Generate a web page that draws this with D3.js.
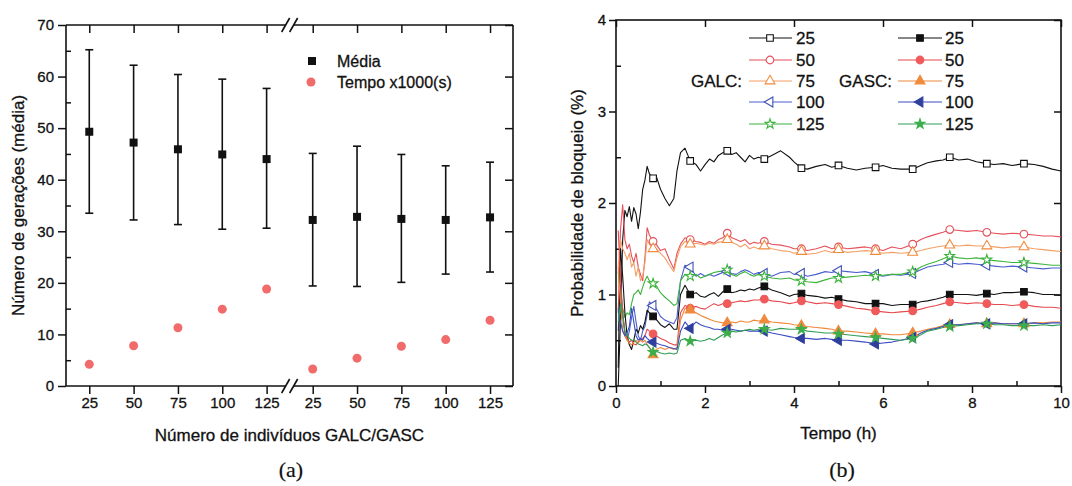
<!DOCTYPE html>
<html><head><meta charset="utf-8">
<script src="https://cdn.jsdelivr.net/npm/d3@7"></script>
<style>
body{margin:0;background:#fff}
svg{display:block}
text{font-family:"Liberation Sans",Arial,sans-serif;fill:#111;stroke:#111;stroke-width:0.3px}
</style>
</head><body>
<svg id="c" width="1072" height="486"></svg>
<script>
// ---------------- DATA: chart (a) ----------------
const sizes = ["25", "50", "75", "100", "125"];
const groups = ["GALC", "GASC"];
const mediaGALC = [49.3, 47.2, 45.9, 44.9, 44.0];
const mediaGASC = [32.2, 32.8, 32.4, 32.2, 32.7];
const errHiGALC = [65.2, 62.2, 60.4, 59.5, 57.7];
const errHiGASC = [45.1, 46.5, 44.9, 42.7, 43.4];
const errLoGALC = [33.5, 32.2, 31.3, 30.4, 30.6];
const errLoGASC = [19.4, 19.3, 20.1, 21.7, 22.1];
const tempoGALC = [4.2, 7.8, 11.3, 14.9, 18.8];
const tempoGASC = [3.3, 5.4, 7.7, 9.0, 12.75];
const yTicksA = [0, 10, 20, 30, 40, 50, 60, 70];

// ---------------- DATA: chart (b) ----------------
const tempoH = [0.05,0.1,0.15,0.2,0.25,0.3,0.35,0.4,0.45,0.5,
  0.55,0.6,0.65,0.7,0.75,0.833,0.9,1.0,1.1,1.2,
  1.3,1.37,1.45,1.55,1.667,1.8,1.9,2.0,2.1,2.2,
  2.3,2.4,2.5,2.6,2.7,2.8,2.9,3.0,3.1,3.2,
  3.333,3.5,3.7,3.9,4.0,4.167,4.3,4.5,4.7,4.85,
  5.0,5.2,5.4,5.6,5.833,6.0,6.2,6.4,6.667,6.85,
  7.0,7.2,7.35,7.5,7.7,7.9,8.1,8.333,8.5,8.7,
  8.9,9.167,9.4,9.6,9.8,10.0];
const markerTimes = [0.833,1.667,2.5,3.333,4.167,5.0,5.833,6.667,7.5,8.333,9.167];

const galc25 = [0,0.7,1.6,1.92,1.85,1.96,1.8,1.95,1.88,1.72,
  1.9,2.15,2.25,2.4,2.32,2.27,2.3,2.15,2.05,1.97,
  2.05,2.35,2.55,2.6,2.46,2.42,2.35,2.42,2.48,2.45,
  2.52,2.55,2.57,2.53,2.55,2.5,2.45,2.52,2.48,2.5,
  2.48,2.52,2.57,2.5,2.45,2.38,2.37,2.4,2.42,2.39,
  2.41,2.38,2.36,2.38,2.39,2.41,2.38,2.37,2.37,2.41,
  2.44,2.46,2.47,2.5,2.47,2.48,2.45,2.43,2.42,2.43,
  2.41,2.43,2.42,2.4,2.37,2.35];
const galc50 = [0.8,1.7,1.98,1.6,1.5,1.55,1.42,1.35,1.45,1.3,
  1.22,1.15,1.4,1.73,1.65,1.58,1.55,1.48,1.5,1.38,
  1.28,1.45,1.55,1.62,1.6,1.58,1.57,1.55,1.58,1.56,
  1.6,1.62,1.67,1.62,1.6,1.58,1.6,1.55,1.57,1.56,
  1.58,1.55,1.54,1.52,1.5,1.5,1.48,1.5,1.53,1.5,
  1.52,1.5,1.51,1.52,1.5,1.48,1.52,1.5,1.55,1.6,
  1.63,1.66,1.68,1.71,1.7,1.69,1.7,1.68,1.67,1.66,
  1.67,1.66,1.65,1.64,1.64,1.63];
const galc75 = [1.3,1.6,1.5,1.45,1.38,1.45,1.3,1.35,1.2,1.3,
  1.15,1.2,1.35,1.6,1.55,1.5,1.5,1.45,1.4,1.32,
  1.25,1.4,1.52,1.58,1.55,1.56,1.55,1.54,1.56,1.55,
  1.57,1.58,1.6,1.57,1.55,1.52,1.55,1.5,1.52,1.5,
  1.53,1.5,1.48,1.47,1.45,1.47,1.44,1.45,1.48,1.46,
  1.49,1.46,1.47,1.48,1.47,1.45,1.46,1.45,1.46,1.48,
  1.5,1.52,1.53,1.54,1.53,1.54,1.53,1.53,1.52,1.51,
  1.52,1.52,1.5,1.49,1.48,1.47];
const galc100 = [0.6,1.1,0.8,0.55,0.5,0.6,0.75,0.87,0.7,0.55,
  0.5,0.6,0.65,0.78,0.92,0.88,0.85,0.76,0.72,0.7,
  0.68,0.75,1.15,1.32,1.3,1.2,1.23,1.2,1.22,1.2,
  1.22,1.24,1.25,1.23,1.22,1.25,1.27,1.25,1.22,1.24,
  1.23,1.2,1.24,1.25,1.22,1.23,1.2,1.22,1.25,1.24,
  1.26,1.25,1.24,1.25,1.22,1.2,1.22,1.21,1.23,1.27,
  1.3,1.32,1.33,1.35,1.33,1.34,1.33,1.32,1.31,1.3,
  1.31,1.3,1.29,1.28,1.29,1.29];
const galc125 = [1.25,1.0,0.85,0.75,0.8,0.78,0.9,1.0,1.02,1.05,
  1.0,1.08,1.15,1.2,1.15,1.12,1.1,1.02,0.97,0.93,
  0.88,0.9,1.15,1.22,1.2,1.22,1.18,1.2,1.22,1.24,
  1.25,1.26,1.27,1.22,1.2,1.23,1.25,1.22,1.2,1.22,
  1.2,1.18,1.17,1.18,1.16,1.15,1.14,1.13,1.16,1.18,
  1.18,1.19,1.2,1.21,1.2,1.21,1.22,1.22,1.25,1.3,
  1.33,1.36,1.39,1.42,1.4,1.39,1.4,1.38,1.37,1.36,
  1.35,1.35,1.34,1.33,1.32,1.32];
const gasc25 = [0.2,1.5,1.2,0.8,0.55,0.45,0.4,0.5,0.62,0.58,
  0.66,0.62,0.7,0.83,0.8,0.76,0.73,0.67,0.64,0.68,
  0.62,0.62,1.0,1.1,1.0,1.02,0.98,0.97,1.0,1.02,
  0.98,1.03,1.06,1.02,1.03,1.05,1.04,1.06,1.05,1.07,
  1.09,1.05,1.02,0.98,1.0,1.01,0.99,0.98,0.96,0.97,
  0.95,0.93,0.92,0.9,0.9,0.9,0.88,0.89,0.89,0.92,
  0.93,0.95,0.97,1.0,1.0,1.0,0.99,1.01,1.0,1.02,
  1.02,1.03,1.02,1.0,1.0,0.99];
const gasc50 = [1.7,1.2,0.8,0.6,0.52,0.48,0.5,0.46,0.45,0.48,
  0.5,0.52,0.55,0.62,0.6,0.57,0.55,0.52,0.5,0.47,
  0.45,0.45,0.8,0.88,0.85,0.87,0.85,0.84,0.87,0.9,
  0.88,0.9,0.9,0.91,0.92,0.93,0.92,0.93,0.94,0.94,
  0.95,0.93,0.92,0.9,0.91,0.93,0.92,0.9,0.91,0.9,
  0.89,0.87,0.85,0.84,0.82,0.81,0.8,0.81,0.82,0.84,
  0.86,0.88,0.9,0.92,0.91,0.9,0.91,0.9,0.89,0.89,
  0.88,0.89,0.87,0.86,0.86,0.85];
const gasc75 = [1.3,0.9,0.6,0.55,0.5,0.47,0.45,0.48,0.5,0.47,
  0.5,0.48,0.5,0.45,0.42,0.34,0.4,0.42,0.4,0.42,
  0.4,0.42,0.72,0.85,0.83,0.8,0.77,0.75,0.73,0.71,
  0.7,0.69,0.69,0.7,0.69,0.71,0.7,0.7,0.72,0.71,
  0.72,0.7,0.69,0.68,0.67,0.66,0.65,0.64,0.63,0.62,
  0.6,0.6,0.59,0.58,0.57,0.57,0.56,0.56,0.58,0.6,
  0.62,0.64,0.66,0.67,0.67,0.68,0.69,0.68,0.69,0.68,
  0.68,0.68,0.69,0.69,0.7,0.7];
const gasc100 = [0.85,0.7,0.6,0.55,0.58,0.65,0.85,0.7,0.55,0.5,
  0.52,0.5,0.55,0.52,0.5,0.48,0.47,0.45,0.44,0.42,
  0.41,0.4,0.6,0.7,0.63,0.7,0.67,0.65,0.64,0.62,
  0.62,0.61,0.62,0.62,0.61,0.6,0.61,0.6,0.6,0.6,
  0.6,0.58,0.56,0.54,0.53,0.52,0.52,0.51,0.52,0.51,
  0.5,0.5,0.49,0.48,0.46,0.47,0.48,0.5,0.53,0.58,
  0.61,0.63,0.65,0.67,0.67,0.68,0.69,0.68,0.69,0.68,
  0.68,0.68,0.69,0.68,0.69,0.69];
const gasc125 = [0.7,0.9,0.75,0.6,0.55,0.52,0.5,0.5,0.48,0.46,
  0.45,0.44,0.46,0.45,0.42,0.37,0.38,0.36,0.35,0.36,
  0.35,0.36,0.5,0.52,0.49,0.5,0.49,0.5,0.52,0.5,
  0.53,0.56,0.58,0.6,0.59,0.6,0.61,0.62,0.61,0.62,
  0.62,0.61,0.63,0.62,0.62,0.62,0.6,0.59,0.58,0.58,
  0.57,0.56,0.55,0.54,0.53,0.52,0.51,0.5,0.52,0.56,
  0.6,0.62,0.64,0.65,0.66,0.67,0.68,0.68,0.67,0.67,
  0.66,0.66,0.66,0.67,0.66,0.67];
const xTicksB = [0, 2, 4, 6, 8, 10];
const yTicksB = [0, 1, 2, 3, 4];

// ---------------- styles ----------------
const svg = d3.select("#c");
const FONT = '"Liberation Sans", Arial, sans-serif';
const INK = "#111";

// ================= CHART (a) =================
const A = {l: 66, r: 513, t: 25, b: 386};
const groupOffset = sizes.length + 0.04;
const slot = (g, i) => g * groupOffset + i;
const xA = d3.scaleLinear().domain([-0.525, 9.558]).range([A.l, A.r]);
const yA = d3.scaleLinear().domain([0, 70]).range([A.b, A.t]);
const gA = svg.append("g");

const rowsA = [];
groups.forEach((g, gi) => {
  const med = gi ? mediaGASC : mediaGALC;
  const hi = gi ? errHiGASC : errHiGALC;
  const lo = gi ? errLoGASC : errLoGALC;
  const tp = gi ? tempoGASC : tempoGALC;
  sizes.forEach((s, i) => rowsA.push({label: s, pos: slot(gi, i), med: med[i], hi: hi[i], lo: lo[i], tempo: tp[i]}));
});

const yAxA = gA.append("g").attr("transform", `translate(${A.l},0)`)
  .call(d3.axisLeft(yA).tickValues(yTicksA).tickFormat(d3.format("d")).tickSize(8).tickPadding(4));
yAxA.select(".domain").remove();
const yMinA = gA.append("g").attr("transform", `translate(${A.l},0)`)
  .call(d3.axisLeft(yA).tickValues(d3.range(5, 70, 10)).tickSize(-5).tickFormat(""));
yMinA.select(".domain").remove();
const yRA = gA.append("g").attr("transform", `translate(${A.r},0)`)
  .call(d3.axisRight(yA).tickValues(yTicksA).tickSize(-8).tickFormat(""));
yRA.select(".domain").remove();
const xAxA = gA.append("g").attr("transform", `translate(0,${A.b})`)
  .call(d3.axisBottom(xA).tickValues(rowsA.map(d => d.pos)).tickFormat((d, i) => rowsA[i].label).tickSize(8).tickPadding(3));
xAxA.select(".domain").remove();
const xTA = gA.append("g").attr("transform", `translate(0,${A.t})`)
  .call(d3.axisTop(xA).tickValues(rowsA.map(d => d.pos)).tickSize(-8).tickFormat(""));
xTA.select(".domain").remove();
gA.selectAll(".tick line").attr("stroke", INK).attr("stroke-width", 1.5);
gA.selectAll(".tick text").attr("font-size", 15).attr("font-family", FONT).attr("fill", INK);

const xb = xA((slot(0, 4) + slot(1, 0)) / 2);
const frame = gA.append("g").attr("stroke", INK).attr("stroke-width", 1.6).attr("fill", "none");
frame.append("line").attr("x1", A.l).attr("x2", A.l).attr("y1", A.t).attr("y2", A.b);
frame.append("line").attr("x1", A.r).attr("x2", A.r).attr("y1", A.t).attr("y2", A.b);
[A.t, A.b].forEach(y => {
  frame.append("line").attr("x1", A.l).attr("x2", xb - 4).attr("y1", y).attr("y2", y);
  frame.append("line").attr("x1", xb + 4).attr("x2", A.r).attr("y1", y).attr("y2", y);
  [-4, 4].forEach(dx => frame.append("line")
    .attr("x1", xb + dx - 4).attr("y1", y + 7).attr("x2", xb + dx + 4).attr("y2", y - 7));
});

const eb = gA.append("g").attr("stroke", INK).attr("stroke-width", 1.6);
rowsA.forEach(d => {
  const x = xA(d.pos);
  eb.append("line").attr("x1", x).attr("x2", x).attr("y1", yA(d.hi)).attr("y2", yA(d.lo));
  eb.append("line").attr("x1", x - 4).attr("x2", x + 4).attr("y1", yA(d.hi)).attr("y2", yA(d.hi));
  eb.append("line").attr("x1", x - 4).attr("x2", x + 4).attr("y1", yA(d.lo)).attr("y2", yA(d.lo));
});
gA.append("g").selectAll("rect").data(rowsA).join("rect")
  .attr("x", d => xA(d.pos) - 4).attr("y", d => yA(d.med) - 4)
  .attr("width", 8).attr("height", 8).attr("fill", INK);
gA.append("g").selectAll("circle").data(rowsA).join("circle")
  .attr("cx", d => xA(d.pos)).attr("cy", d => yA(d.tempo)).attr("r", 4.5)
  .attr("fill", "#f26b6b");

gA.append("rect").attr("x", 308).attr("y", 57).attr("width", 8).attr("height", 8).attr("fill", INK);
gA.append("text").attr("x", 337).attr("y", 66.5).attr("font-size", 16).text("Média");
gA.append("circle").attr("cx", 311).attr("cy", 82).attr("r", 4.5).attr("fill", "#f26b6b");
gA.append("text").attr("x", 337).attr("y", 88).attr("font-size", 16).text("Tempo x1000(s)");

gA.append("text").attr("transform", `translate(24,${(A.t + A.b) / 2}) rotate(-90)`)
  .attr("text-anchor", "middle").attr("font-size", 17).text("Número de gerações (média)");
gA.append("text").attr("x", (A.l + A.r) / 2).attr("y", 441)
  .attr("text-anchor", "middle").attr("font-size", 17).text("Número de indivíduos GALC/GASC");
gA.append("text").attr("x", 291).attr("y", 477).attr("text-anchor", "middle")
  .attr("font-size", 22).style("font-family", '"Liberation Serif","Times New Roman",serif').style("stroke-width", "0.2px").text("(a)");

// ================= CHART (b) =================
const B = {l: 616, r: 1061, t: 20, b: 386};
const xB = d3.scaleLinear().domain([0, 10]).range([B.l, B.r]);
const yB = d3.scaleLinear().domain([0, 4]).range([B.b, B.t]);
const gB = svg.append("g");

const yAxB = gB.append("g").attr("transform", `translate(${B.l},0)`)
  .call(d3.axisLeft(yB).tickValues(yTicksB).tickFormat(d3.format("d")).tickSize(7).tickPadding(3));
yAxB.select(".domain").remove();
const yMinB = gB.append("g").attr("transform", `translate(${B.l},0)`)
  .call(d3.axisLeft(yB).tickValues([0.5, 1.5, 2.5, 3.5]).tickSize(-5).tickFormat(""));
yMinB.select(".domain").remove();
const yRB = gB.append("g").attr("transform", `translate(${B.r},0)`)
  .call(d3.axisRight(yB).tickValues(yTicksB).tickSize(-7).tickFormat(""));
yRB.select(".domain").remove();
const xAxB = gB.append("g").attr("transform", `translate(0,${B.b})`)
  .call(d3.axisBottom(xB).tickValues(xTicksB).tickFormat(d3.format("d")).tickSize(7).tickPadding(4));
xAxB.select(".domain").remove();
const xMinB = gB.append("g").attr("transform", `translate(0,${B.b})`)
  .call(d3.axisBottom(xB).tickValues([1, 3, 5, 7, 9]).tickSize(-5).tickFormat(""));
xMinB.select(".domain").remove();
const xTB = gB.append("g").attr("transform", `translate(0,${B.t})`)
  .call(d3.axisTop(xB).tickValues(xTicksB).tickSize(-7).tickFormat(""));
xTB.select(".domain").remove();
gB.selectAll(".tick line").attr("stroke", INK).attr("stroke-width", 1.5);
gB.selectAll(".tick text").attr("font-size", 15).attr("font-family", FONT).attr("fill", INK);
gB.append("rect").attr("x", B.l).attr("y", B.t).attr("width", B.r - B.l).attr("height", B.b - B.t)
  .attr("fill", "none").attr("stroke", INK).attr("stroke-width", 1.6);

const seriesB = [
  {name: "25", grp: 0, vals: galc25, line: "#111", mark: "#111", sym: "square", open: true},
  {name: "50", grp: 0, vals: galc50, line: "#e5505a", mark: "#e5505a", sym: "circle", open: true},
  {name: "75", grp: 0, vals: galc75, line: "#f3a066", mark: "#f08a3c", sym: "triangle", open: true},
  {name: "100", grp: 0, vals: galc100, line: "#4b5fcf", mark: "#3f51b5", sym: "left", open: true},
  {name: "125", grp: 0, vals: galc125, line: "#3cb43c", mark: "#3cb43c", sym: "star", open: true},
  {name: "25", grp: 1, vals: gasc25, line: "#111", mark: "#111", sym: "square", open: false},
  {name: "50", grp: 1, vals: gasc50, line: "#e5484d", mark: "#f05a5a", sym: "circle", open: false},
  {name: "75", grp: 1, vals: gasc75, line: "#f0883a", mark: "#f08a3c", sym: "triangle", open: false},
  {name: "100", grp: 1, vals: gasc100, line: "#3a4cbf", mark: "#2f3f9e", sym: "left", open: false},
  {name: "125", grp: 1, vals: gasc125, line: "#2e9e55", mark: "#3cae4a", sym: "star", open: false}
];
const symType = {square: d3.symbolSquare, circle: d3.symbolCircle, triangle: d3.symbolTriangle, left: d3.symbolTriangle, star: d3.symbolStar};
const symSize = {square: 44, circle: 46, triangle: 42, left: 42, star: 30};
function drawMarker(g, s, x, y) {
  g.append("path")
    .attr("d", d3.symbol().type(symType[s.sym]).size(symSize[s.sym])())
    .attr("transform", `translate(${x},${y})` + (s.sym === "left" ? " rotate(-90)" : ""))
    .attr("fill", s.open ? "#fff" : s.mark)
    .attr("stroke", s.mark).attr("stroke-width", 1.1);
}
const lineGen = d3.line().x(d => xB(d[0])).y(d => yB(d[1]));
const isMarker = t => markerTimes.some(m => Math.abs(m - t) < 1e-6);
const plotB = gB.append("g");
seriesB.forEach(s => {
  const pts = tempoH.map((t, i) => [t, s.vals[i]]);
  plotB.append("path").attr("d", lineGen(pts)).attr("fill", "none")
    .attr("stroke", s.line).attr("stroke-width", 1.1).attr("stroke-linejoin", "round");
});
seriesB.forEach(s => {
  tempoH.forEach((t, i) => { if (isMarker(t)) drawMarker(plotB, s, xB(t), yB(s.vals[i])); });
});

const legRows = [38, 60, 81, 102, 124];
const legCols = [{x1: 749, x2: 792, mx: 770, tx: 796}, {x1: 898, x2: 942, mx: 920, tx: 945}];
const lg = gB.append("g");
seriesB.forEach((s, k) => {
  const c = legCols[s.grp], y = legRows[k % 5];
  lg.append("line").attr("x1", c.x1).attr("x2", c.x2).attr("y1", y).attr("y2", y)
    .attr("stroke", s.line).attr("stroke-width", 1.1);
  drawMarker(lg, s, c.mx, y);
  lg.append("text").attr("x", c.tx).attr("y", y + 6).attr("font-size", 17).text(s.name);
});
lg.append("text").attr("x", 742).attr("y", 87).attr("text-anchor", "end").attr("font-size", 17).text(groups[0] + ":");
lg.append("text").attr("x", 892).attr("y", 87).attr("text-anchor", "end").attr("font-size", 17).text(groups[1] + ":");

gB.append("text").attr("transform", `translate(583,${(B.t + B.b) / 2}) rotate(-90)`)
  .attr("text-anchor", "middle").attr("font-size", 17).text("Probabilidade de bloqueio (%)");
gB.append("text").attr("x", (B.l + B.r) / 2).attr("y", 439)
  .attr("text-anchor", "middle").attr("font-size", 17).text("Tempo (h)");
gB.append("text").attr("x", 842).attr("y", 477).attr("text-anchor", "middle")
  .attr("font-size", 22).style("font-family", '"Liberation Serif","Times New Roman",serif').style("stroke-width", "0.2px").text("(b)");
</script>
</body></html>
